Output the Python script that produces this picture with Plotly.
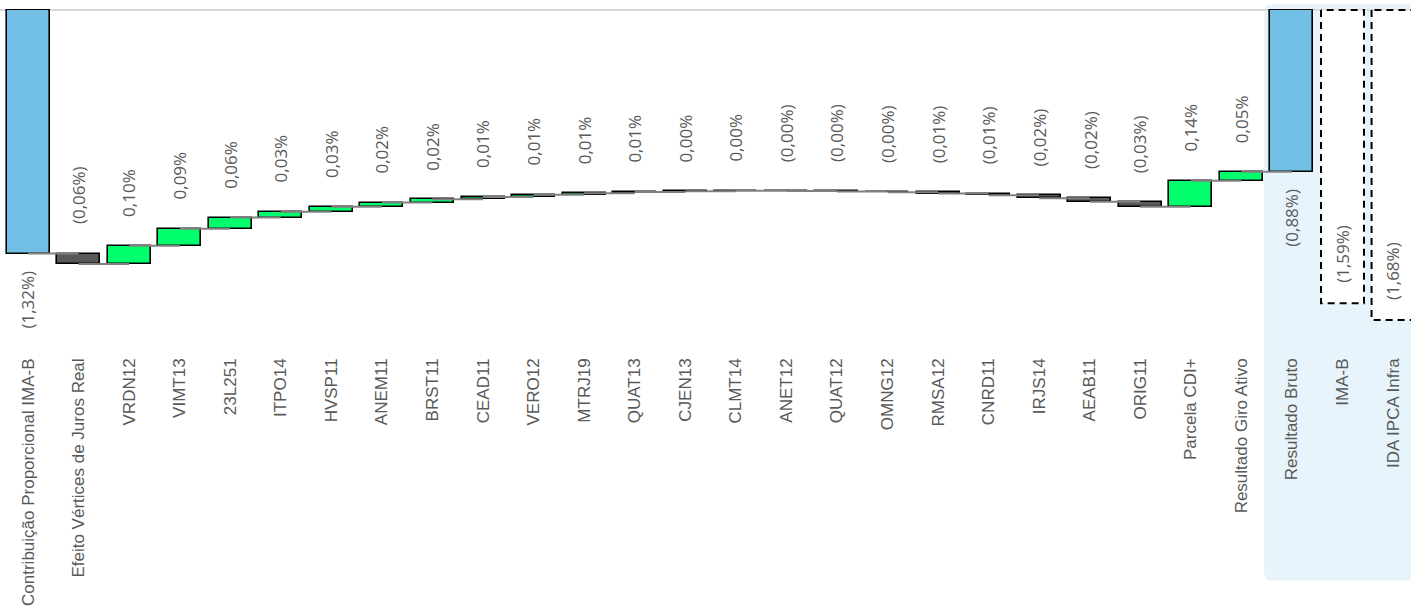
import numpy as np
import plotly.graph_objects as go

# ---------------- data ----------------
categories = [
    "Contribuição Proporcional IMA-B", "Efeito Vértices de Juros Real", "VRDN12", "VIMT13",
    "23L251", "ITPO14", "HVSP11", "ANEM11", "BRST11", "CEAD11", "VERO12", "MTRJ19",
    "QUAT13", "CJEN13", "CLMT14", "ANET12", "QUAT12", "OMNG12", "RMSA12", "CNRD11",
    "IRJS14", "AEAB11", "ORIG11", "Parcela CDI+", "Resultado Giro Ativo",
    "Resultado Bruto", "IMA-B", "IDA IPCA Infra",
]
start_value = -1.32  # Contribuição Proporcional IMA-B (%)
step_values = [  # Efeito Vértices ... Resultado Giro Ativo (%)
    -0.057, 0.099, 0.092, 0.061, 0.032, 0.027, 0.022, 0.018, 0.013, 0.011, 0.009,
    0.007, 0.004, 0.002, -0.001, -0.003, -0.004, -0.007, -0.009, -0.016, -0.020,
    -0.026, 0.141, 0.048,
]
benchmark_values = [-1.59, -1.68]  # IMA-B, IDA IPCA Infra (%)

# ---------------- derived ----------------
steps = np.array(step_values)
ends = start_value + np.cumsum(steps)
total_value = ends[-1]
starts = np.concatenate([[start_value], ends[:-1]])

n_steps = len(steps)
idx = np.arange(len(categories))
bases = [0.0] + list(starts) + [0.0] + [0.0] * len(benchmark_values)
heights = [start_value] + list(steps) + [total_value] + benchmark_values
levels = [start_value] + list(ends)  # cumulative level after each of first bars

BLUE = "#71BFE4"
GREEN = "#00FF6C"
GREY = "#595959"
colors = [BLUE] + [GREEN if v >= 0 else GREY for v in steps] + [BLUE] + ["white"] * len(benchmark_values)
line_w = [1.6] * (2 + n_steps) + [0] * len(benchmark_values)
BW = 0.85


def fmt(v):
    s = f"{abs(v):.2f}".replace(".", ",") + "%"
    return f"({s})" if v < 0 else s


fig = go.Figure()

fig.add_trace(go.Bar(
    x=idx, y=heights, base=bases, width=BW,
    marker=dict(color=colors, line=dict(color="black", width=line_w)),
    hoverinfo="skip", showlegend=False,
))

# connectors
cx, cy = [], []
for i, lv in enumerate(levels):
    cx += [i, i + 1, None]
    cy += [lv, lv, None]
fig.add_trace(go.Scatter(x=cx, y=cy, mode="lines", line=dict(color="#808080", width=2),
                         hoverinfo="skip", showlegend=False))

# dashed benchmark outlines
for k, v in enumerate(benchmark_values):
    i = 2 + n_steps + k
    fig.add_trace(go.Scatter(
        x=[i - BW / 2, i - BW / 2, i + BW / 2, i + BW / 2, i - BW / 2],
        y=[0, v, v, 0, 0], mode="lines",
        line=dict(color="black", width=2, dash="7px,5px"),
        hoverinfo="skip", showlegend=False))

# value labels
lab_font = dict(family="Open Sans", size=17, color="#595959")
ann = []
# first bar: below its end
ann.append(dict(x=0, y=start_value, text=fmt(start_value), textangle=-90, showarrow=False,
                yanchor="top", yshift=-15, font=lab_font))
for j, v in enumerate(steps):
    i = j + 1
    top = max(starts[j], ends[j])
    ann.append(dict(x=i, y=top, text=fmt(v), textangle=-90, showarrow=False,
                    yanchor="bottom", yshift=27, font=lab_font))
i_tot = n_steps + 1
ann.append(dict(x=i_tot, y=total_value, text=fmt(total_value), textangle=-90, showarrow=False,
                yanchor="top", yshift=-15, font=lab_font))
for k, v in enumerate(benchmark_values):
    i = i_tot + 1 + k
    ann.append(dict(x=i, y=v, text=fmt(v), textangle=-90, showarrow=False,
                    yanchor="bottom", yshift=18, font=lab_font))

# background panel for results (rounded left corners)
x0 = n_steps + 0.45
x1 = len(categories) + 1
y_top, y_bot = 1.0148, -0.691
rx, ry = 0.16, 0.024
panel = (f"M {x1},{y_top} L {x0 + rx},{y_top} Q {x0},{y_top} {x0},{y_top - ry} "
         f"L {x0},{y_bot + ry} Q {x0},{y_bot} {x0 + rx},{y_bot} L {x1},{y_bot} Z")

shapes = [
    dict(type="path", path=panel, xref="x", yref="paper", fillcolor="#E8F4FB",
         line=dict(width=0), layer="below"),
    dict(type="line", xref="paper", yref="y", x0=0, x1=1, y0=0, y1=0,
         line=dict(color="#D9D9D9", width=2), layer="below"),
]

fig.update_layout(
    width=1411, height=610,
    margin=dict(l=0, r=0, t=9, b=263),
    paper_bgcolor="white", plot_bgcolor="rgba(0,0,0,0)",
    bargap=0, showlegend=False,
    annotations=ann, shapes=shapes,
    xaxis=dict(
        range=[-0.554, 27.355], tickmode="array", tickvals=list(idx), ticktext=categories,
        tickangle=-90, tickfont=dict(family="Liberation Sans", size=17, color="#595959"),
        ticklabelstandoff=7,
        showgrid=False, zeroline=False, showline=False, ticks="",
    ),
    yaxis=dict(range=[-1.8266, 0.0054], visible=False, showgrid=False, zeroline=False),
)

fig.write_html("out.html", config={"displayModeBar": False},
               post_script="document.body.style.margin='0';")
